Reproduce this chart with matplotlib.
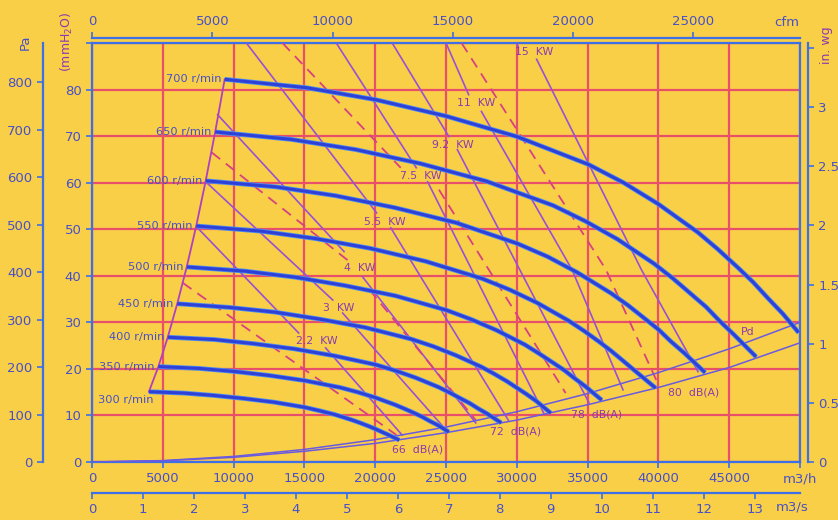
import matplotlib
matplotlib.use("Agg")
import matplotlib.pyplot as plt

BG = "#f9cf48"
GRID = "#e8506a"
AXIS = "#3d6fe6"
TEXT = "#4650c8"
CURVE = "#2e40d6"
POWER = "#9a50d2"
DASH = "#d84080"
KW_TXT = "#8a3ab0"

# speed curves: flow in m3/h, pressure in mmH2O
speed_labels = ["700 r/min", "650 r/min", "600 r/min", "550 r/min", "500 r/min",
                "450 r/min", "400 r/min", "350 r/min", "300 r/min"]
q700 = [9370, 15140, 20070, 25000, 30000, 35070, 37540, 40000, 42800, 44200, 45600, 46700, 47700, 48800, 49900]
p700 = [82.2, 80.4, 77.8, 74.3, 69.9, 63.9, 60.0, 55.4, 49.3, 45.7, 41.8, 38.6, 35.3, 31.8, 27.8]
q650 = [8700, 14060, 18640, 23200, 27860, 32570, 34860, 37140, 39740, 41040, 42340, 43370, 44290, 45320, 46900]
p650 = [70.9, 69.3, 67.1, 64.1, 60.3, 55.1, 51.7, 47.8, 42.5, 39.4, 36.0, 33.3, 30.4, 27.4, 22.6]
q600 = [8030, 12980, 17200, 21430, 25710, 30060, 32180, 34280, 36680, 37880, 39080, 40030, 40880, 41830, 43300]
p600 = [60.4, 59.1, 57.2, 54.6, 51.4, 46.9, 44.1, 40.7, 36.2, 33.6, 30.7, 28.4, 25.9, 23.4, 19.2]
q550 = [7360, 11900, 15770, 19640, 23570, 27550, 29500, 31430, 33630, 34730, 35830, 36690, 37480, 38340, 39800]
p550 = [50.7, 49.6, 48.0, 45.9, 43.1, 39.4, 37.0, 34.2, 30.4, 28.2, 25.8, 23.8, 21.8, 19.6, 15.9]
q500 = [6690, 10810, 14340, 17860, 21430, 25050, 26810, 28570, 30570, 31570, 32570, 33360, 34070, 34860, 36000]
p500 = [41.9, 41.0, 39.7, 37.9, 35.7, 32.6, 30.6, 28.3, 25.2, 23.3, 21.3, 19.7, 18.0, 16.2, 13.3]
q450 = [6020, 9730, 12900, 16070, 19290, 22550, 24130, 25710, 27520, 28420, 29320, 30020, 30670, 31370, 32400]
p450 = [34.0, 33.2, 32.2, 30.7, 28.9, 26.4, 24.8, 22.9, 20.4, 18.9, 17.3, 15.9, 14.6, 13.1, 10.5]
q400 = [5350, 8650, 11470, 14290, 17140, 20040, 21450, 22860, 24460, 25260, 26060, 26690, 27260, 27890, 28900]
p400 = [26.8, 26.3, 25.4, 24.3, 22.8, 20.9, 19.6, 18.1, 16.1, 14.9, 13.6, 12.6, 11.5, 10.4, 8.4]
q350 = [4690, 7570, 10040, 12500, 15000, 17540, 18770, 20000, 21400, 22100, 22800, 23350, 23850, 24400, 25200]
p350 = [20.5, 20.1, 19.45, 18.6, 17.5, 16.0, 15.0, 13.85, 12.3, 11.4, 10.45, 9.65, 8.8, 7.95, 6.45]
q300 = [4020, 6490, 8600, 10710, 12860, 15030, 16090, 17140, 18340, 18940, 19540, 20010, 20440, 20920, 21700]
p300 = [15.1, 14.8, 14.3, 13.65, 12.85, 11.75, 11.0, 10.2, 9.05, 8.4, 7.7, 7.1, 6.5, 5.85, 4.7]

# dynamic pressure and end-of-curve lines
line_q = [0, 5000, 10000, 15000, 20000, 25000, 30000, 35000, 40000, 45000, 50000]
pd_p = [0, 0.3, 1.2, 2.7, 4.8, 7.5, 10.8, 14.7, 19.2, 24.3, 30.0]
end_p = [0, 0.25, 1.0, 2.3, 4.0, 6.3, 9.0, 12.3, 16.0, 20.3, 25.6]

# motor power lines (solid), None breaks a line at its label
kw22_q = [7390, 14600, None, 16500, 21900]
kw22_p = [50.5, 27.7, None, 24.5, 5.8]
kw3_q = [8100, 17000, None, 17700, 25000]
kw3_p = [60.0, 34.8, None, 32.0, 6.9]
kw4_q = [8870, 17800, None, 19100, 27100]
kw4_p = [74.6, 45.2, None, 39.8, 8.4]
kw55_q = [10900, 20100, None, 21100, 29400]
kw55_p = [90.0, 53.5, None, 50.3, 9.0]
kw75_q = [17250, 22900, None, 23700, 31900]
kw75_p = [90.0, 63.2, None, 60.2, 10.5]
kw92_q = [21200, 25200, None, 25800, 35100]
kw92_p = [90.0, 69.9, None, 67.1, 12.7]
kw11_q = [25000, 26600, None, 27500, 33900, 37500]
kw11_p = [90.0, 78.9, None, 75.3, 41.3, 15.5]
kw15_q = [30000, 30100, None, 31400, 38800, 42800]
kw15_p = [90.0, 89.2, None, 86.5, 41.3, 19.4]

# dashed power lines
d1_q = [6400, 21500]
d1_p = [38.5, 5.8]
d2_q = [8450, 18200, None, 19600, 27100]
d2_p = [66.5, 43.0, None, 37.0, 9.0]
d3_q = [13450, 21800, None, 24500, 33450]
d3_p = [90.0, 63.2, None, 58.5, 14.8]
d4_q = [26100, 36300, 40000]
d4_p = [90.0, 41.3, 16.6]

kw_labels = ["2.2  KW", "3  KW", "4  KW", "5.5  KW", "7.5  KW", "9.2  KW", "11  KW", "15  KW"]
kw_label_q = [15850, 17400, 18900, 20700, 23200, 25500, 27100, 31200]
kw_label_p = [26.0, 33.1, 41.7, 51.6, 61.5, 68.0, 77.2, 88.0]

db_labels = ["66  dB(A)", "72  dB(A)", "78  dB(A)", "80  dB(A)", "Pd"]
db_label_q = [23000, 29900, 35600, 42500, 46300]
db_label_p = [2.6, 6.5, 10.1, 15.0, 28.0]


def gaps(vals):
    return [float("nan") if v is None else v for v in vals]


W, H = 838, 520
fig = plt.figure(figsize=(W / 100, H / 100), dpi=100)
fig.patch.set_facecolor(BG)
ax = fig.add_axes([92 / W, 1 - 462 / H, 708 / W, 419 / H])
ax.set_facecolor(BG)
ax.set_xlim(0, 50000)
ax.set_ylim(0, 90)

ax.set_xticks(range(0, 50001, 5000))
ax.set_xticklabels([str(v) for v in range(0, 50000, 5000)] + ["m3/h"])
ax.set_yticks(range(0, 91, 10))
ax.set_yticklabels([str(v) for v in range(0, 90, 10)] + [""])
ax.grid(True, color=GRID, lw=1.6)
ax.set_axisbelow(True)
for s in ax.spines.values():
    s.set_color(AXIS)
    s.set_linewidth(1.6)
ax.tick_params(colors=AXIS, labelcolor=TEXT, labelsize=9.5, length=4, width=1.2)

# power lines
for qq, pp in [(kw22_q, kw22_p), (kw3_q, kw3_p), (kw4_q, kw4_p), (kw55_q, kw55_p),
               (kw75_q, kw75_p), (kw92_q, kw92_p), (kw11_q, kw11_p), (kw15_q, kw15_p)]:
    ax.plot(gaps(qq), gaps(pp), color=POWER, lw=1.2, zorder=3)
for qq, pp in [(d1_q, d1_p), (d2_q, d2_p), (d3_q, d3_p), (d4_q, d4_p)]:
    ax.plot(gaps(qq), gaps(pp), color=DASH, lw=1.3, dashes=(6, 4), zorder=3)

# Pd and end lines
ax.plot(line_q, pd_p, color="#6a5ae0", lw=1.1, zorder=3)
ax.plot(line_q, end_p, color="#6a5ae0", lw=1.1, zorder=3)

curves = [(q700, p700), (q650, p650), (q600, p600), (q550, p550), (q500, p500),
          (q450, p450), (q400, p400), (q350, p350), (q300, p300)]
for (qq, pp), lab in zip(curves, speed_labels):
    ax.plot(qq, pp, color="#4a8cf0", lw=3.4, zorder=4, solid_capstyle="butt", solid_joinstyle="round")
    ax.plot(qq, pp, color=CURVE, lw=2.2, zorder=5, solid_capstyle="butt", solid_joinstyle="round")
    if lab.startswith("300"):
        ax.text(400, pp[0] - 1.7, lab, color=TEXT, fontsize=8.2, ha="left", va="center")
    else:
        ax.text(qq[0] - 250, pp[0], lab, color=TEXT, fontsize=8.2, ha="right", va="center")

# surge line through the start of each curve
ax.plot([c[0][0] for c in curves], [c[1][0] for c in curves], color="#b040c0", lw=1.3, zorder=4)

for t, x, y in zip(kw_labels, kw_label_q, kw_label_p):
    ax.text(x, y, t, color=KW_TXT, fontsize=7.8, ha="center", va="center", zorder=6)
for t, x, y in zip(db_labels, db_label_q, db_label_p):
    ax.text(x, y, t, color=KW_TXT, fontsize=7.8, ha="center", va="center", zorder=6)

# secondary scales
pa = ax.secondary_yaxis((43 - 92) / 708, functions=(lambda v: v * 9.81, lambda v: v / 9.81))
pa.set_yticks(range(0, 801, 100))
wg = ax.secondary_yaxis((808 - 92) / 708, functions=(lambda v: v / 25.4, lambda v: v * 25.4))
wg.set_yticks([0, 0.5, 1, 1.5, 2, 2.5, 3, 3.5])
wg.set_yticklabels(["0", "0.5", "1", "1.5", "2", "2.5", "3", ""])
cfm = ax.secondary_xaxis(1 + (43 - 38.5) / 419, functions=(lambda v: v / 1.699, lambda v: v * 1.699))
cfm.set_xticks(range(0, 25001, 5000))
m3s = ax.secondary_xaxis(-(493 - 462) / 419, functions=(lambda v: v / 3600, lambda v: v * 3600))
m3s.set_xticks(range(0, 14))
for sec in (pa, wg, cfm, m3s):
    for s in sec.spines.values():
        s.set_color(AXIS)
        s.set_linewidth(1.6)
    sec.tick_params(colors=AXIS, labelcolor=TEXT, labelsize=9.5, length=4, width=1.2)

fig.text(25 / W, 1 - 42 / H, "Pa", color=TEXT, fontsize=9.5, rotation=90, ha="center", va="center")
fig.text(67 / W, 1 - 42 / H, "(mmH$_2$O)", color=KW_TXT, fontsize=9, rotation=90, ha="center", va="center")
fig.text(826 / W, 1 - 45 / H, "in. wg", color=KW_TXT, fontsize=9, rotation=90, ha="center", va="center")
fig.text(787 / W, 1 - 22 / H, "cfm", color=TEXT, fontsize=9.5, ha="center", va="center")
fig.text(792 / W, 1 - 507 / H, "m3/s", color=TEXT, fontsize=9.5, ha="center", va="center")

fig.savefig("out.png", dpi=100, facecolor=BG)
